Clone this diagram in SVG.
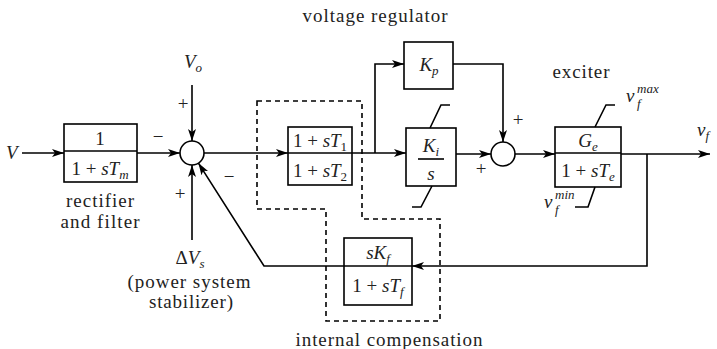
<svg xmlns="http://www.w3.org/2000/svg" width="717" height="349" viewBox="0 0 717 349">
<defs>
<marker id="arr" viewBox="0 0 12 8" refX="12" refY="4" markerWidth="12" markerHeight="8" markerUnits="userSpaceOnUse" orient="auto">
<path d="M0,0 L12,4 L0,8 L3,4 z" fill="#000"/>
</marker>
<style>
.ln{fill:none;stroke:#000;stroke-width:1.6}
.bx{fill:#fff;stroke:#000;stroke-width:1.6}
.ds{fill:none;stroke:#000;stroke-width:1.6;stroke-dasharray:5,4}
text{font-family:"Liberation Serif","Times New Roman",serif;fill:#222}
.t{font-size:19px}
.m{font-size:19px}
.i{font-style:italic}
.s{font-size:13px}
.c{text-anchor:middle}
</style>
</defs>
<rect width="717" height="349" fill="#fff"/>

<g id="connectors">
<line class="ln" x1="22" y1="153" x2="64" y2="153" marker-end="url(#arr)"/>
<line class="ln" x1="137" y1="153" x2="180" y2="153" marker-end="url(#arr)"/>
<line class="ln" x1="192" y1="85" x2="192" y2="141" marker-end="url(#arr)"/>
<line class="ln" x1="192" y1="240" x2="192" y2="165" marker-end="url(#arr)"/>
<polyline class="ln" points="345,266 264,266 198.4,163.1" marker-end="url(#arr)"/>
<line class="ln" x1="204" y1="153" x2="288" y2="153" marker-end="url(#arr)"/>
<line class="ln" x1="352" y1="153" x2="406" y2="153" marker-end="url(#arr)"/>
<polyline class="ln" points="375,153 375,64 404,64" marker-end="url(#arr)"/>
<polyline class="ln" points="453,64 503,64 503,142" marker-end="url(#arr)"/>
<line class="ln" x1="456" y1="154" x2="491" y2="154" marker-end="url(#arr)"/>
<line class="ln" x1="515" y1="154" x2="555" y2="154" marker-end="url(#arr)"/>
<line class="ln" x1="621" y1="154" x2="710" y2="154" marker-end="url(#arr)"/>
<polyline class="ln" points="647,154 647,266 412,266" marker-end="url(#arr)"/>
</g>

<g id="internal-compensation">
<polygon class="ds" points="257,101 362,101 362,219 440,219 440,321 326,321 326,209 257,209"/>
<text class="t c" x="389" y="346" textLength="187">internal compensation</text>
</g>

<g id="input-V"><text class="m i" x="6" y="159">V</text></g>

<g id="rectifier">
<rect class="bx" x="64" y="124" width="73" height="58"/>
<line class="ln" x1="64" y1="151" x2="137" y2="151"/>
<text class="m c" x="100" y="145">1</text>
<text class="m c" x="100" y="175">1 + <tspan class="i">sT</tspan><tspan class="i s" dy="4">m</tspan></text>
<text class="t c" x="100" y="207" textLength="68">rectifier</text>
<text class="t c" x="100" y="228" textLength="79">and filter</text>
</g>

<g id="sum1">
<circle class="bx" cx="192" cy="153" r="12"/>
<text class="t c" x="158" y="143">−</text>
<text class="t c" x="183" y="110">+</text>
<text class="t c" x="180" y="200">+</text>
<text class="t c" x="229" y="183">−</text>
</g>

<g id="input-Vo"><text class="m i c" x="193" y="68">V<tspan class="s" dy="4">o</tspan></text></g>

<g id="input-dVs">
<text class="m c" x="190" y="264">Δ<tspan class="i">V</tspan><tspan class="i s" dy="4">s</tspan></text>
<text class="t c" x="189" y="288" textLength="123">(power system</text>
<text class="t c" x="191" y="308" textLength="84">stabilizer)</text>
</g>

<g id="leadlag">
<rect class="bx" x="288" y="127" width="64" height="58"/>
<line class="ln" x1="288" y1="153" x2="352" y2="153"/>
<text class="m c" x="320" y="147">1 + <tspan class="i">sT</tspan><tspan class="s" dy="4">1</tspan></text>
<text class="m c" x="320" y="177">1 + <tspan class="i">sT</tspan><tspan class="s" dy="4">2</tspan></text>
</g>

<g id="Kp">
<rect class="bx" x="404" y="42" width="49" height="47"/>
<text class="m i c" x="429" y="71">K<tspan class="s" dy="4">p</tspan></text>
<text class="t c" x="375" y="22" textLength="145">voltage regulator</text>
</g>

<g id="Ki">
<rect class="bx" x="406" y="128" width="50" height="58"/>
<line class="ln" x1="418" y1="159" x2="444" y2="159"/>
<text class="m i c" x="431" y="152">K<tspan class="s" dy="4">i</tspan></text>
<text class="m i c" x="431" y="180">s</text>
<polyline class="ln" points="430,128 441,105 450,105"/>
<polyline class="ln" points="432,186 421,207 412,207"/>
</g>

<g id="sum2">
<circle class="bx" cx="503" cy="154" r="12"/>
<text class="t c" x="518" y="126">+</text>
<text class="t c" x="481" y="175">+</text>
</g>

<g id="exciter">
<rect class="bx" x="555" y="127" width="66" height="60"/>
<line class="ln" x1="555" y1="153" x2="621" y2="153"/>
<text class="m i c" x="588" y="147">G<tspan class="s" dy="4">e</tspan></text>
<text class="m c" x="588" y="177">1 + <tspan class="i">sT</tspan><tspan class="i s" dy="4">e</tspan></text>
<polyline class="ln" points="595,127 606,105 615,105"/>
<polyline class="ln" points="595,187 588,207 575,207"/>
<text class="t c" x="581" y="78" textLength="57">exciter</text>
<text class="m i" x="626" y="102">v</text>
<text class="m i s" x="637" y="108">f</text>
<text class="m i s" x="637" y="93">max</text>
<text class="m i" x="544" y="208">v</text>
<text class="m i s" x="555" y="214">f</text>
<text class="m i s" x="555" y="199">min</text>
</g>

<g id="output-vf"><text class="m i" x="697" y="136">v<tspan class="s" dy="4">f</tspan></text></g>

<g id="feedback">
<rect class="bx" x="344" y="238" width="68" height="67"/>
<line class="ln" x1="344" y1="266" x2="412" y2="266"/>
<text class="m c" x="378" y="259"><tspan class="i">sK</tspan><tspan class="i s" dy="4">f</tspan></text>
<text class="m c" x="378" y="292">1 + <tspan class="i">sT</tspan><tspan class="i s" dy="4">f</tspan></text>
</g>
</svg>
